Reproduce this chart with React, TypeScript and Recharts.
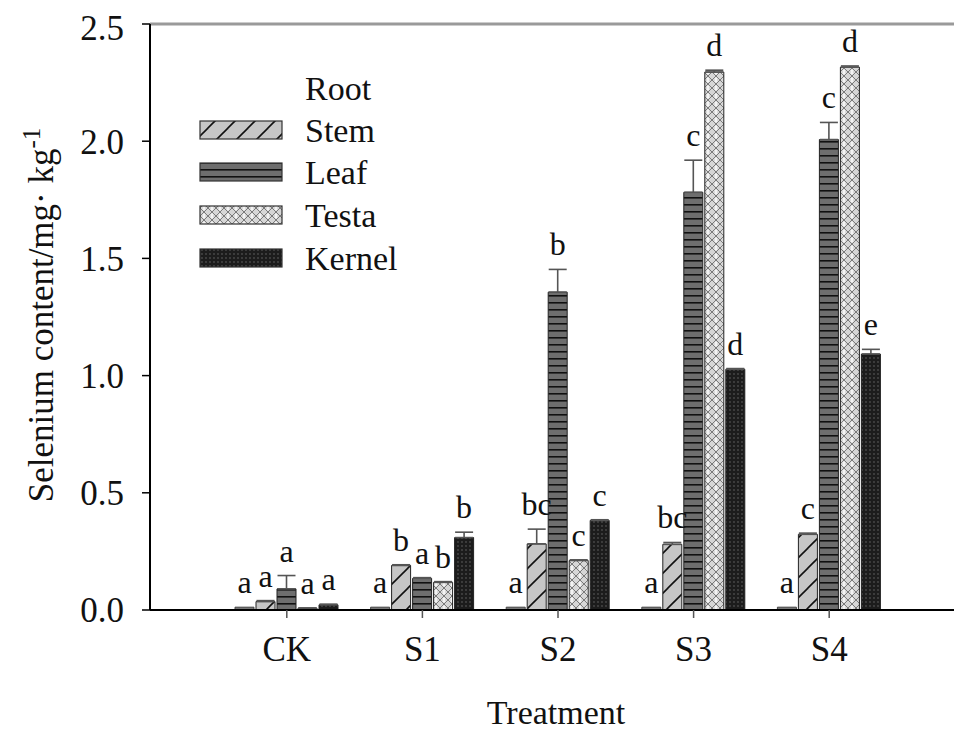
import React from 'react';
import { BarChart, Bar, XAxis, YAxis, ErrorBar, LabelList, Legend, ReferenceLine, Label } from 'recharts';

const FONT = "'Liberation Serif', 'Times New Roman', Times, serif";
const TEXT = '#111';

const categories = ['CK', 'S1', 'S2', 'S3', 'S4'];
const rootValues = [0.012, 0.012, 0.012, 0.012, 0.012];
const stemValues = [0.036, 0.19, 0.282, 0.28, 0.323];
const stemErrors = [0.004, 0.003, 0.063, 0.008, 0.005];
const leafValues = [0.09, 0.135, 1.356, 1.782, 2.007];
const leafErrors = [0.057, 0.003, 0.097, 0.137, 0.073];
const testaValues = [0.008, 0.118, 0.211, 2.295, 2.316];
const testaErrors = [0, 0.003, 0.003, 0.008, 0.005];
const kernelValues = [0.022, 0.309, 0.382, 1.027, 1.092];
const kernelErrors = [0.003, 0.023, 0.003, 0.003, 0.02];
const rootLetters = ['a', 'a', 'a', 'a', 'a'];
const stemLetters = ['a', 'b', 'bc', 'bc', 'c'];
const leafLetters = ['a', 'a', 'b', 'c', 'c'];
const testaLetters = ['a', 'b', 'c', 'd', 'd'];
const kernelLetters = ['a', 'b', 'c', 'd', 'e'];
const yTicks = [0, 0.5, 1.0, 1.5, 2.0, 2.5];
const seriesNames = ['Root', 'Stem', 'Leaf', 'Testa', 'Kernel'];

const data = categories.map((cat, i) => ({
  cat,
  root: rootValues[i],
  stem: stemValues[i],
  stemE: [0, stemErrors[i]],
  leaf: leafValues[i],
  leafE: [0, leafErrors[i]],
  testa: testaValues[i],
  testaE: [0, testaErrors[i]],
  kernel: kernelValues[i],
  kernelE: [0, kernelErrors[i]],
  rootL: rootLetters[i],
  stemL: stemLetters[i],
  leafL: leafLetters[i],
  testaL: testaLetters[i],
  kernelL: kernelLetters[i],
}));

const textStyle = { fontFamily: FONT, fill: TEXT };

const Patterns = ({ suffix = '' }: { suffix?: string }) => (
  <defs>
    <pattern id={`stemPat${suffix}`} patternUnits="userSpaceOnUse" width={20} height={20}>
      <rect width={20} height={20} fill="#c6c6c6" />
      <line x1={0} y1={20} x2={20} y2={0} stroke="#111" strokeWidth={1.6} />
      <line x1={-5} y1={5} x2={5} y2={-5} stroke="#111" strokeWidth={1.6} />
      <line x1={15} y1={25} x2={25} y2={15} stroke="#111" strokeWidth={1.6} />
    </pattern>
    <pattern id={`leafPat${suffix}`} patternUnits="userSpaceOnUse" width={8} height={7}>
      <rect width={8} height={7} fill="#6e6e6e" />
      <rect width={8} height={1.6} fill="#111" />
    </pattern>
    <pattern id={`testaPat${suffix}`} patternUnits="userSpaceOnUse" width={8} height={8}>
      <rect width={8} height={8} fill="#d6d6d6" />
      <line x1={0} y1={0} x2={8} y2={8} stroke="#7a7a7a" strokeWidth={1} />
      <line x1={8} y1={0} x2={0} y2={8} stroke="#7a7a7a" strokeWidth={1} />
      <circle cx={4} cy={1.2} r={1.3} fill="#f4f4f4" />
      <circle cx={4} cy={6.8} r={1.3} fill="#f4f4f4" />
    </pattern>
    <pattern id={`kernelPat${suffix}`} patternUnits="userSpaceOnUse" width={4} height={4}>
      <rect width={4} height={4} fill="#1c1c1c" />
      <circle cx={2} cy={2} r={0.9} fill="#4a4a4a" />
    </pattern>
  </defs>
);

const legendFills: (string | null)[] = [null, 'url(#stemPatL)', 'url(#leafPatL)', 'url(#testaPatL)', 'url(#kernelPatL)'];
const legendRows = [80, 122, 164, 207, 250];

const renderLegend = () => (
  <svg width={430} height={290} style={{ display: 'block', overflow: 'visible' }}>
    <Patterns suffix="L" />
    {seriesNames.map((name, i) => (
      <g key={name}>
        {legendFills[i] && (
          <rect x={192} y={legendRows[i] - 9} width={82} height={18} fill={legendFills[i] as string} stroke="#333" strokeWidth={1.2} />
        )}
        <text x={297} y={legendRows[i]} dy="0.35em" fontSize={34} style={textStyle}>
          {name}
        </text>
      </g>
    ))}
  </svg>
);

const makeLetterLabel = (values: number[], errors: number[]) => (props: any) => {
  const { x, y, width, height, value, index } = props;
  const v = values[index] ?? 0;
  const e = errors[index] ?? 0;
  const h = Math.abs(Number(height) || 0);
  const errPx = v > 0 ? (h * e) / v : 0;
  const top = Math.min(Number(y), Number(y) + Number(height)) - errPx;
  return (
    <text x={Number(x) + Number(width) / 2} y={top - 14} textAnchor="middle" fontSize={32} style={textStyle}>
      {value}
    </text>
  );
};

const renderYLabel = () => (
  <text transform="translate(45, 307) rotate(-90)" textAnchor="middle" fontSize={35} style={textStyle}>
    Selenium content/mg· kg
    <tspan dy={-13} fontSize={25}>-1</tspan>
  </text>
);

const renderXLabel = () => (
  <text x={548} y={716} textAnchor="middle" fontSize={34} style={textStyle}>
    Treatment
  </text>
);

const errProps = { width: 9, stroke: '#555', strokeWidth: 1.6, direction: 'y' as const };

export default function App() {
  return (
    <div style={{ fontFamily: FONT, marginBottom: -8 }}>
      <BarChart
        width={954}
        height={726}
        data={data}
        margin={{ top: 16, right: 0, bottom: 0, left: 0 }}
        barCategoryGap={16}
        barGap={2}
        style={{ fontFamily: FONT }}
      >
        <Patterns />
        <XAxis
          dataKey="cat"
          height={124}
          padding={{ left: 69, right: 65 }}
          tickSize={8}
          tickMargin={18}
          axisLine={{ stroke: '#000', strokeWidth: 2 }}
          tickLine={{ stroke: '#555', strokeWidth: 1.5 }}
          tick={{ fontSize: 35, fontFamily: FONT, fill: TEXT, style: { fontFamily: FONT } }}
        >
          <Label content={renderXLabel} />
        </XAxis>
        <YAxis
          type="number"
          width={142}
          domain={[0, 2.5]}
          ticks={yTicks}
          tickFormatter={(v: number) => v.toFixed(1)}
          tickSize={8}
          tickMargin={18}
          axisLine={{ stroke: '#000', strokeWidth: 2 }}
          tickLine={{ stroke: '#000', strokeWidth: 1.5 }}
          tick={{ fontSize: 35, fontFamily: FONT, fill: TEXT, style: { fontFamily: FONT } }}
          allowDataOverflow
        >
          <Label content={renderYLabel} />
        </YAxis>
        <ReferenceLine y={2.5} stroke="#9a9a9a" strokeWidth={3} ifOverflow="visible" />
        <Legend
          layout="vertical"
          align="center"
          verticalAlign="middle"
          content={renderLegend}
          wrapperStyle={{ position: 'absolute', left: 0, top: 0, width: 430, height: 290 }}
        />
        <Bar dataKey="root" name="Root" fill="#777" stroke="#444" strokeWidth={1} isAnimationActive={false}>
          <LabelList dataKey="rootL" content={makeLetterLabel(rootValues, rootValues.map(() => 0))} />
        </Bar>
        <Bar dataKey="stem" name="Stem" fill="url(#stemPat)" stroke="#222" strokeWidth={1} isAnimationActive={false}>
          <ErrorBar dataKey="stemE" {...errProps} />
          <LabelList dataKey="stemL" content={makeLetterLabel(stemValues, stemErrors)} />
        </Bar>
        <Bar dataKey="leaf" name="Leaf" fill="url(#leafPat)" stroke="#222" strokeWidth={1} isAnimationActive={false}>
          <ErrorBar dataKey="leafE" {...errProps} />
          <LabelList dataKey="leafL" content={makeLetterLabel(leafValues, leafErrors)} />
        </Bar>
        <Bar dataKey="testa" name="Testa" fill="url(#testaPat)" stroke="#222" strokeWidth={1} isAnimationActive={false}>
          <ErrorBar dataKey="testaE" {...errProps} />
          <LabelList dataKey="testaL" content={makeLetterLabel(testaValues, testaErrors)} />
        </Bar>
        <Bar dataKey="kernel" name="Kernel" fill="url(#kernelPat)" stroke="#222" strokeWidth={1} isAnimationActive={false}>
          <ErrorBar dataKey="kernelE" {...errProps} />
          <LabelList dataKey="kernelL" content={makeLetterLabel(kernelValues, kernelErrors)} />
        </Bar>
      </BarChart>
    </div>
  );
}
